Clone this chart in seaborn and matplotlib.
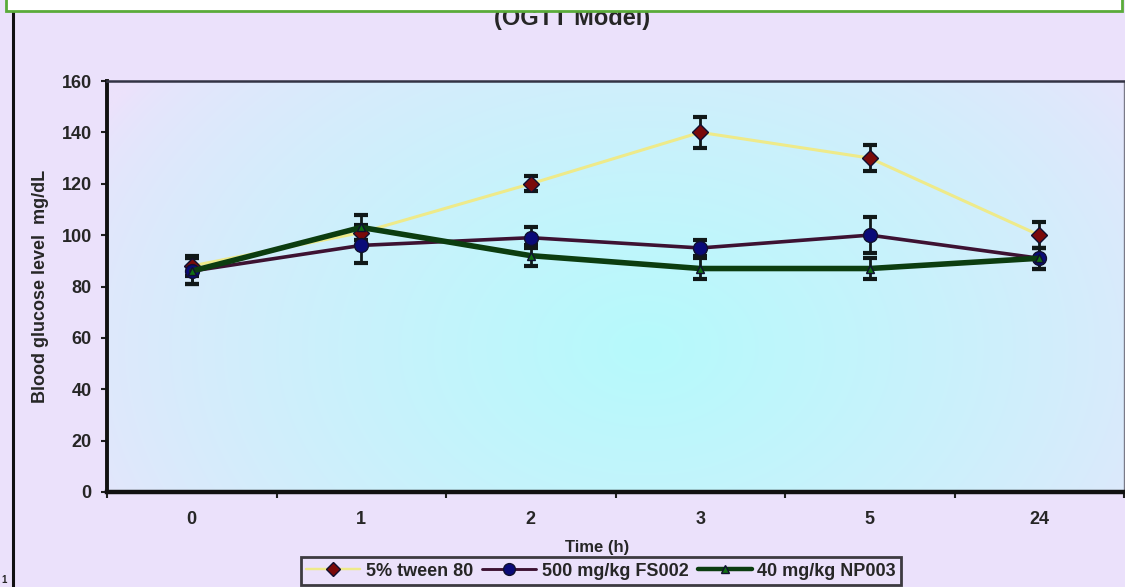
import numpy as np
import pandas as pd
import matplotlib
matplotlib.use("Agg")
import matplotlib.pyplot as plt
import seaborn as sns
from matplotlib.patches import Rectangle
from matplotlib.lines import Line2D

# ---- data ----
time_labels = ["0", "1", "2", "3", "5", "24"]
series_names = ["5% tween 80", "500 mg/kg FS002", "40 mg/kg NP003"]
tween_mean = [88, 101, 120, 140, 130, 100]
tween_err = [4, 3, 3, 6, 5, 5]
fs002_mean = [86, 96, 99, 95, 100, 91]
fs002_err = [5, 7, 4, 3, 7, 4]
np003_mean = [86, 103, 92, 87, 87, 91]
np003_err = [5, 5, 4, 4, 4, 4]
y_ticks = [0, 20, 40, 60, 80, 100, 120, 140, 160]

sns.set_theme(style="white")
plt.rcParams['font.family'] = ['Liberation Sans Narrow', 'Liberation Sans', 'DejaVu Sans']
plt.rcParams['font.weight'] = 'bold'

W, H = 1125, 587
fig = plt.figure(figsize=(W / 100, H / 100), dpi=100)
fig.patch.set_facecolor('#ebe1fb')

ax = fig.add_axes([107 / W, 1 - 492 / H, (1124 - 107) / W, (492 - 81) / H])

# gradient background inside plot area
nx, ny = 400, 200
gx, gy = np.meshgrid(np.linspace(0, 1, nx), np.linspace(0, 1, ny))
d = np.sqrt(((gx - 0.53) / 0.62) ** 2 + ((gy - 0.35) / 1.1) ** 2)
t = np.clip(1 - d, 0, 1) ** 0.7
edge = np.array([236, 226, 251]) / 255
center = np.array([182, 250, 252]) / 255
img = edge[None, None, :] * (1 - t[..., None]) + center[None, None, :] * t[..., None]
ax.imshow(img, extent=[0, 1, 0, 1], transform=ax.transAxes, origin='lower',
          aspect='auto', zorder=0, interpolation='bilinear')
ax.set_facecolor('none')

x = np.arange(len(time_labels))
df = pd.DataFrame({
    "x": np.tile(x, 3),
    "y": tween_mean + fs002_mean + np003_mean,
    "group": np.repeat(series_names, len(x)),
})

line_colors = {"5% tween 80": "#eeea8a", "500 mg/kg FS002": "#3d1232", "40 mg/kg NP003": "#0c3d10"}
line_widths = {"5% tween 80": 2.2, "500 mg/kg FS002": 2.6, "40 mg/kg NP003": 4.0}
markers = {"5% tween 80": "D", "500 mg/kg FS002": "o", "40 mg/kg NP003": "^"}
mfc = {"5% tween 80": "#7a0a0a", "500 mg/kg FS002": "#0a0a78", "40 mg/kg NP003": "#127012"}
msize = {"5% tween 80": 8, "500 mg/kg FS002": 10, "40 mg/kg NP003": 6}
errs = {"5% tween 80": tween_err, "500 mg/kg FS002": fs002_err, "40 mg/kg NP003": np003_err}

for name in series_names:
    sub = df[df.group == name]
    ax.errorbar(sub.x, sub.y, yerr=errs[name], fmt='none', ecolor='#101818',
                elinewidth=2, capsize=5, capthick=3, zorder=3)
for name in series_names:
    sub = df[df.group == name]
    sns.lineplot(data=sub, x="x", y="y", ax=ax, color=line_colors[name],
                 linewidth=line_widths[name], marker=markers[name],
                 markersize=msize[name], markerfacecolor=mfc[name],
                 markeredgecolor='#101030', markeredgewidth=1.0,
                 label=name, zorder=4, legend=False)

ax.set_xlim(-0.5, 5.5)
ax.set_ylim(0, 160)
ax.set_xticks(x)
ax.set_xticklabels(time_labels, fontsize=13, fontweight='bold')
ax.set_xticks(np.arange(-0.5, 5.6, 1.0), minor=True)
ax.tick_params(axis='x', which='major', length=0, pad=14)
ax.tick_params(axis='x', which='minor', length=4, width=1.5, color='#202020', direction='out', bottom=True)
ax.set_yticks(y_ticks)
ax.set_yticklabels([str(v) for v in y_ticks], fontsize=13, fontweight='bold')
ax.tick_params(axis='y', which='major', length=4, width=1.5, color='#202020', direction='out', left=True, pad=7)
ax.grid(False)

ax.set_xlabel("Time (h)", fontsize=12, fontweight='bold')
ax.xaxis.set_label_coords((597 - 107) / (1124 - 107), -(540 - 492) / (492 - 81))
ax.set_ylabel("Blood glucose level  mg/dL", fontsize=13, fontweight='bold')
ax.yaxis.set_label_coords(-(107 - 49) / (1124 - 107), 0.5)

for s, lw, c in [('left', 2.8, '#111111'), ('bottom', 3.2, '#111111'),
                 ('top', 1.8, '#333344'), ('right', 1.0, '#7a7a88')]:
    ax.spines[s].set_visible(True)
    ax.spines[s].set_linewidth(lw)
    ax.spines[s].set_color(c)

# legend
handles = []
for name in series_names:
    handles.append(Line2D([0], [0], color=line_colors[name], lw=line_widths[name] * 0.8,
                          marker=markers[name], markersize=msize[name] * 0.85,
                          markerfacecolor=mfc[name], markeredgecolor='#101030'))
leg = fig.legend(handles, series_names, loc='center', bbox_to_anchor=(601 / W, 1 - 571 / H),
                 ncol=3, frameon=True, fancybox=False, handlelength=3.0,
                 handletextpad=0.3, columnspacing=0.5, borderpad=0.3,
                 prop={'weight': 'bold', 'size': 13})
leg.get_frame().set_edgecolor('#111111')
leg.get_frame().set_linewidth(2.0)
leg.get_frame().set_facecolor('#ebe1fb')

# title (partially hidden under the white box at top)
fig.text(572 / W, 1 - 19 / H, "(OGTT Model)", ha='center', va='center',
         fontsize=17, fontweight='bold', zorder=1)
box = Rectangle((6 / W, 1 - 11 / H), (1122 - 6) / W, 14 / H, transform=fig.transFigure,
                facecolor='white', edgecolor='#5aab3a', linewidth=2, zorder=10)
fig.add_artist(box)
fig.add_artist(Line2D([13 / W, 13 / W], [0, 1 - 12 / H], transform=fig.transFigure,
                      color='#111111', linewidth=2.2, zorder=9))
fig.text(1 / W, 1 - 580 / H, "1", fontsize=7, ha='left', va='center')

fig.savefig("out.png", dpi=100, facecolor=fig.get_facecolor())
